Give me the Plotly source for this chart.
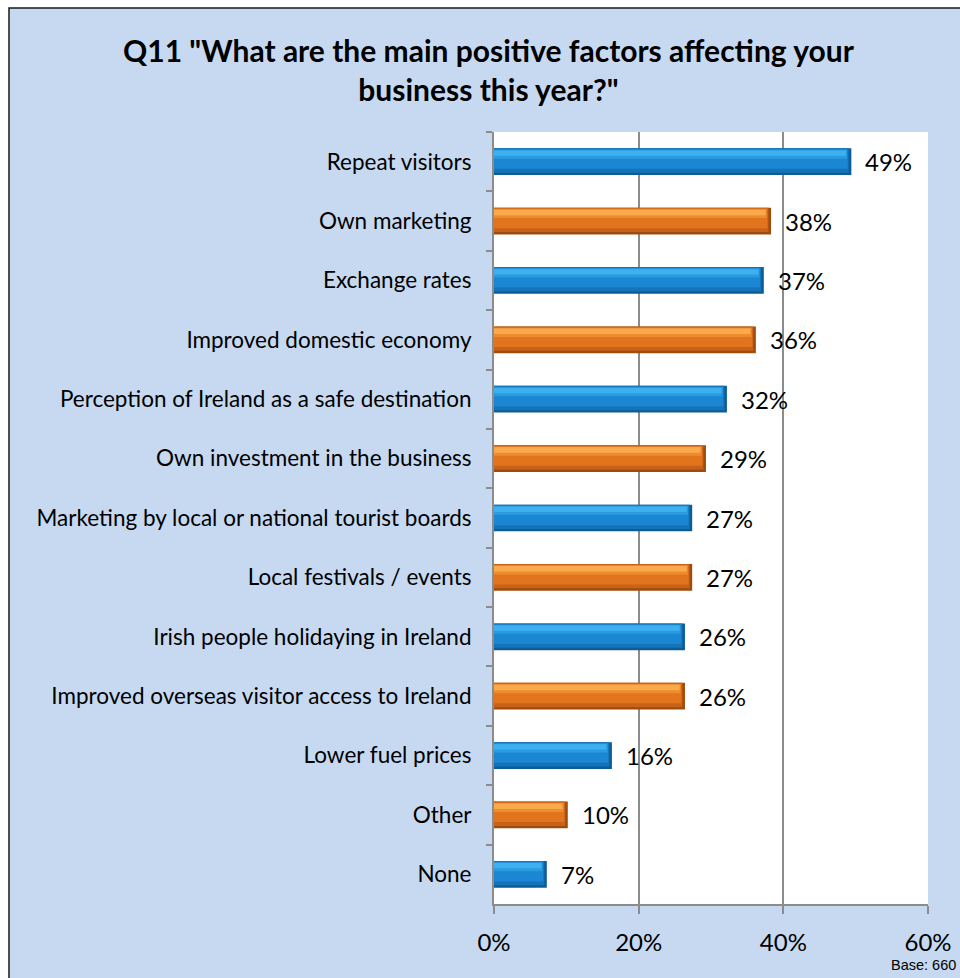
import plotly.graph_objects as go

categories = [
    "Repeat visitors",
    "Own marketing",
    "Exchange rates",
    "Improved domestic economy",
    "Perception of Ireland as a safe destination",
    "Own investment in the business",
    "Marketing by local or national tourist boards",
    "Local festivals / events",
    "Irish people holidaying in Ireland",
    "Improved overseas visitor access to Ireland",
    "Lower fuel prices",
    "Other",
    "None",
]
values = [49.4, 38.3, 37.3, 36.2, 32.2, 29.3, 27.4, 27.4, 26.4, 26.4, 16.3, 10.2, 7.3]
value_labels = ["49%", "38%", "37%", "36%", "32%", "29%", "27%", "27%", "26%", "26%", "16%", "10%", "7%"]
x_ticks = [0, 20, 40, 60]
x_tick_labels = ["0%", "20%", "40%", "60%"]

W, H = 960, 978
ML, MR, MT, MB = 494, 32, 132, 74
PW, PH = W - ML - MR, H - MT - MB

blue = dict(dark="#0C5C96", lower="#1573BA", mid="#1B86D1", soft="#2A9BE1", bright="#3DB1F0")
orange = dict(dark="#9E4C0C", lower="#C8621A", mid="#E3741E", soft="#EE8D30", bright="#F9AA4C")
pal = [blue if i % 2 == 0 else orange for i in range(len(categories))]

fig = go.Figure()
FONT = "Lato, Carlito, Calibri, sans-serif"

# layered bars to imitate the bevelled (3-D) look: (colour key, top, bottom, shortening)
layers = [
    ("dark", -0.225, 0.225, 0.0),
    ("lower", -0.225, 0.185, 0.35),
    ("mid", -0.21, 0.12, 0.5),
    ("soft", -0.20, -0.05, 0.6),
    ("bright", -0.19, -0.10, 0.75),
]
for key, top, bot, red in layers:
    fig.add_trace(go.Bar(
        y=categories,
        x=[max(v - red, 0) for v in values],
        orientation="h",
        width=bot - top,
        offset=top,
        marker=dict(color=[p[key] for p in pal], line=dict(width=0)),
        hoverinfo="skip",
        showlegend=False,
    ))

for cat, v, lab in zip(categories, values, value_labels):
    fig.add_annotation(
        x=v, y=cat, xref="x", yref="y", text=lab, showarrow=False,
        xanchor="left", yanchor="middle", xshift=12,
        font=dict(family=FONT, size=24, color="#000000"),
    )

# chart-area frame (light blue, black border)
fig.add_shape(type="rect", xref="paper", yref="paper", layer="below",
              x0=(9 - ML) / PW, x1=(W + 20 - ML) / PW,
              y0=(H - MT - (H + 20)) / PH, y1=(H - MB - 8) / PH,
              fillcolor="#C6D9F1", line=dict(color="#1a1a1a", width=1.5))
fig.add_shape(type="rect", xref="paper", yref="paper", layer="below",
              x0=0, x1=1, y0=0, y1=1, fillcolor="#FFFFFF", line=dict(width=0))

fig.add_annotation(
    xref="paper", yref="paper",
    x=(488.5 - ML) / PW, y=(H - MB - 70) / PH,
    text="Q11 \"What are the main positive factors affecting your<br>business this year?\"",
    showarrow=False, xanchor="center", yanchor="middle", align="center",
    font=dict(family=FONT, size=30, color="#000000", weight="bold"),
)
fig.add_annotation(
    xref="paper", yref="paper",
    x=(958 - ML) / PW, y=(H - MB - 965) / PH,
    text="Base: 660", showarrow=False, xanchor="right", yanchor="middle",
    font=dict(family="Liberation Sans, Arial, sans-serif", size=14.5, color="#000000"),
)

fig.update_layout(
    width=W, height=H,
    margin=dict(l=ML, r=MR, t=MT, b=MB, pad=0, autoexpand=False),
    paper_bgcolor="#FFFFFF",
    plot_bgcolor="#FFFFFF",
    barmode="overlay",
    showlegend=False,
    xaxis=dict(
        range=[0, 60], tickvals=x_ticks, ticktext=x_tick_labels,
        showgrid=True, gridcolor="#8C8C8C", gridwidth=1.5,
        showline=True, linecolor="#8C8C8C", linewidth=2,
        ticks="outside", ticklen=8, tickwidth=2, tickcolor="#8C8C8C",
        ticklabelstandoff=8, automargin=False,
        tickfont=dict(family=FONT, size=24, color="#000000"),
        zeroline=False, fixedrange=True,
    ),
    yaxis=dict(
        categoryorder="array", categoryarray=categories,
        autorange="reversed",
        showline=True, linecolor="#8C8C8C", linewidth=2,
        ticks="outside", ticklen=6, tickwidth=2, tickcolor="#8C8C8C",
        tickson="boundaries", showgrid=False,
        ticklabelstandoff=16, automargin=False,
        tickfont=dict(family=FONT, size=22.5, color="#000000"),
        fixedrange=True,
    ),
)

fig.write_html(
    "out.html",
    config={"displayModeBar": False},
    post_script="document.body.style.margin='0';document.body.style.overflow='hidden';",
)
